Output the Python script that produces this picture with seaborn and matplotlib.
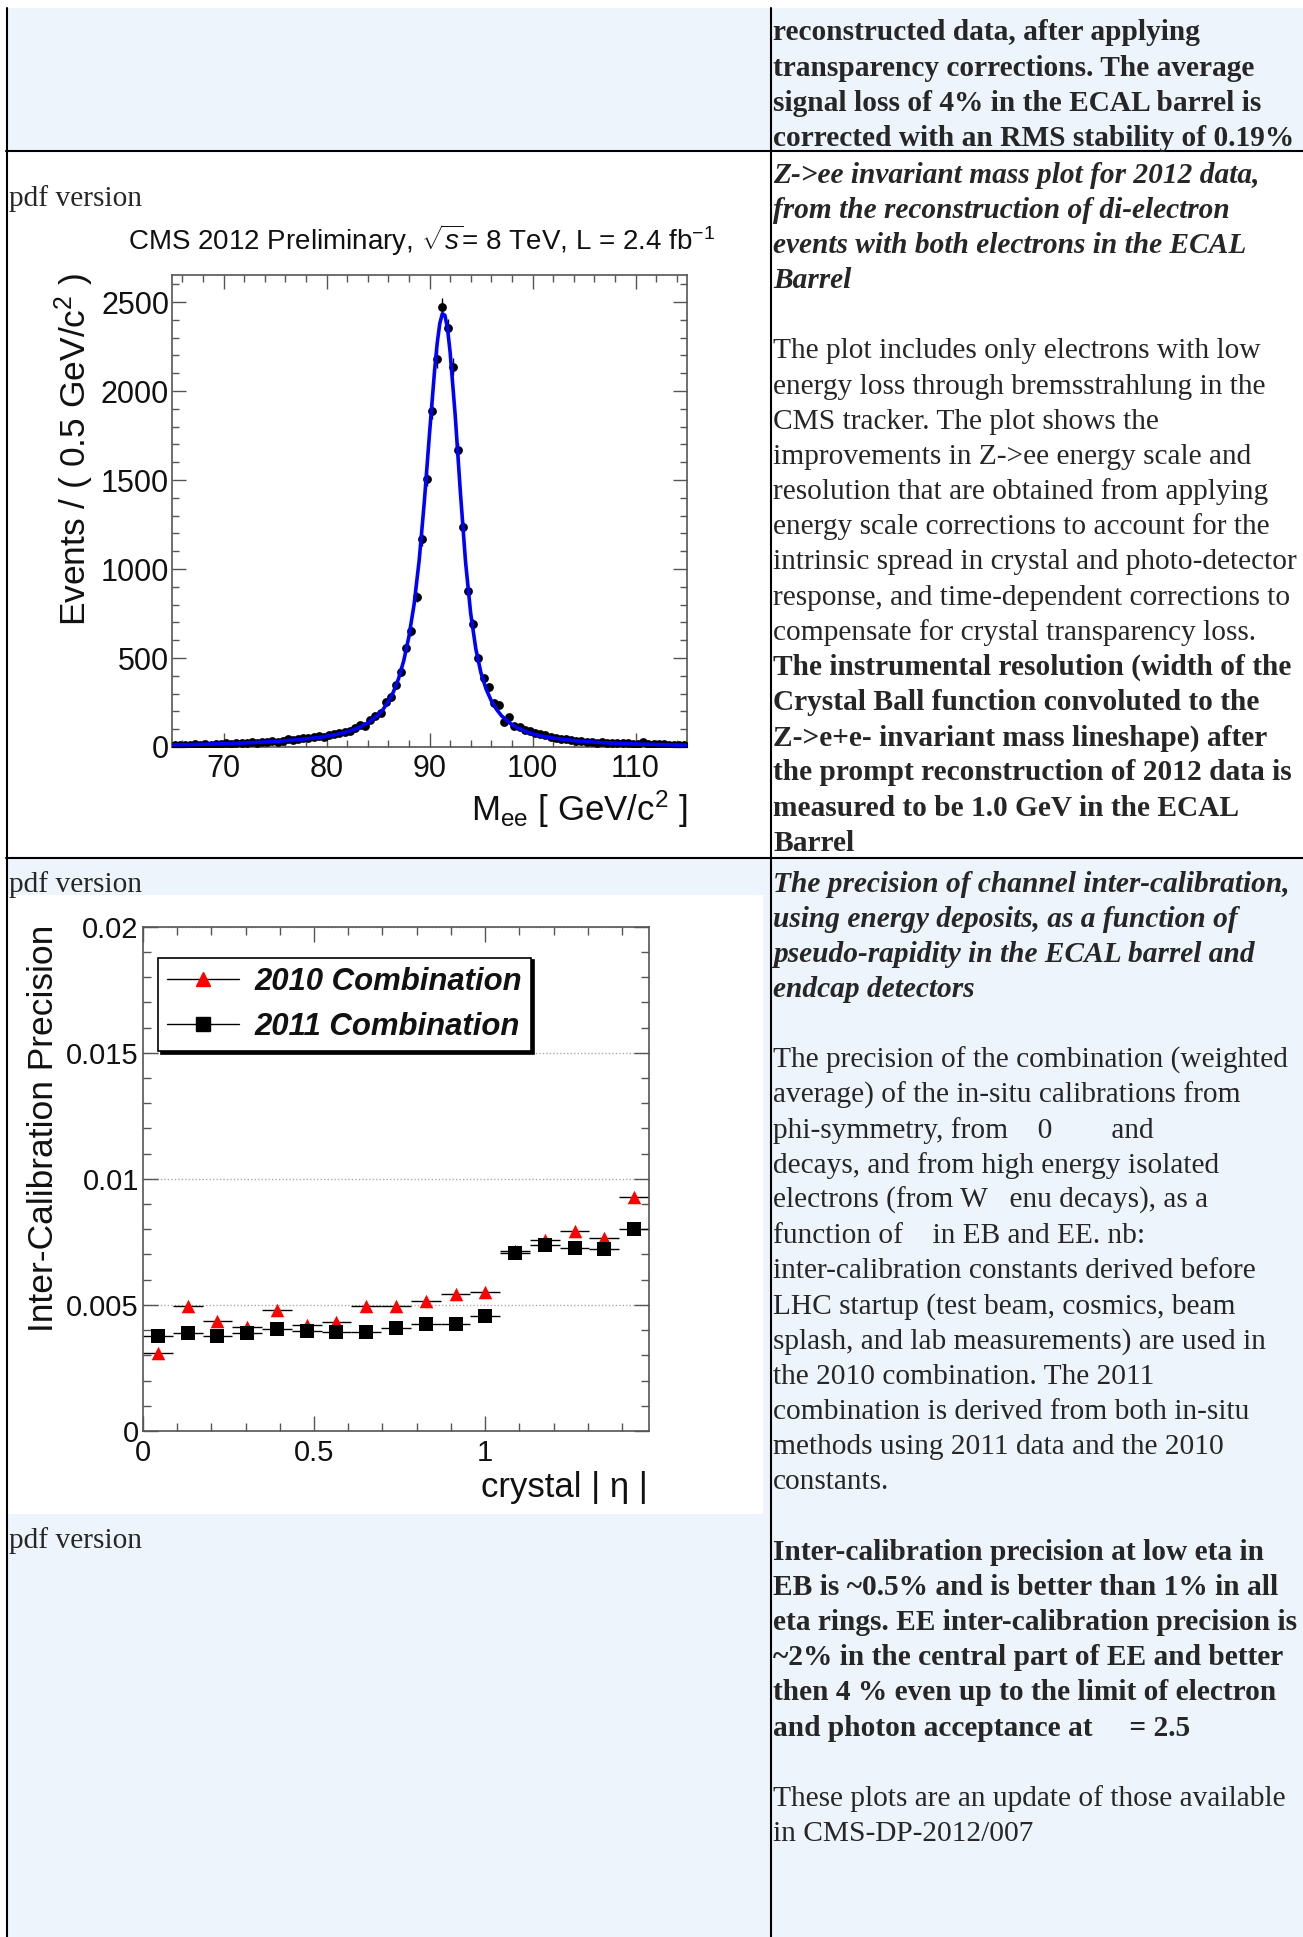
import numpy as np
import pandas as pd
import matplotlib
matplotlib.use('Agg')
import matplotlib.pyplot as plt
from matplotlib.patches import Rectangle
from matplotlib.lines import Line2D
from matplotlib.ticker import MultipleLocator, FixedLocator
import seaborn as sns

sns.set_theme(style='ticks')
plt.rcParams['font.family'] = ['Liberation Sans', 'DejaVu Sans']
plt.rcParams['mathtext.fontset'] = 'custom'
plt.rcParams['mathtext.rm'] = 'Liberation Sans'
plt.rcParams['mathtext.it'] = 'Liberation Sans:italic'
plt.rcParams['mathtext.bf'] = 'Liberation Sans:bold'

# ---- Z->ee invariant mass, 0.5 GeV bins from 65 to 115 ----
mass = np.arange(65.25, 115.0, 0.5)
events = [12, 10, 14, 12, 15, 13, 16, 14, 18, 17,
          20, 16, 22, 24, 21, 26, 23, 28, 27, 32,
          30, 35, 44, 38, 47, 52, 48, 58, 62, 55,
          68, 72, 80, 86, 92, 104, 124, 118, 150, 172,
          189, 254, 280, 347, 420, 556, 650, 843, 1166, 1505,
          1888, 2178, 2475, 2354, 2137, 1667, 1236, 876, 692, 498,
          385, 335, 247, 234, 138, 171,
          118, 112, 95, 90, 78, 72, 66, 58, 50, 46,
          44, 40, 35, 33, 30, 28, 24, 27, 22, 25,
          21, 20, 24, 19, 18, 26, 17, 19, 16, 15,
          14, 12, 11, 10]

fit_mass = [65, 67, 69, 71, 73, 75, 77, 79, 80, 81, 82, 83, 84, 85, 85.5, 86, 86.5,
            87, 87.5, 88, 88.5, 89, 89.5, 90, 90.5, 90.75, 91, 91.25, 91.5, 91.75,
            92, 92.5, 93, 93.5, 94, 94.5, 95, 95.5, 96, 96.5, 97, 98, 99, 100, 101,
            102, 104, 106, 108, 110, 112, 115]
fit_vals = [12, 14, 17, 21, 25, 31, 40, 52, 60, 71, 85, 105, 135, 180, 212, 255, 310,
            385, 485, 620, 800, 1050, 1380, 1760, 2120, 2270, 2380, 2435, 2425, 2350,
            2220, 1860, 1430, 1040, 750, 550, 415, 325, 260, 212, 175, 125, 95, 74, 60,
            50, 36, 27, 21, 17, 14, 10]

# ---- inter-calibration precision vs crystal |eta| ----
eta = [0.0435, 0.1305, 0.2175, 0.3045, 0.3915, 0.4785, 0.5655, 0.6525, 0.7395,
       0.8265, 0.9135, 1.0005, 1.0875, 1.1745, 1.2615, 1.3485, 1.4355]
eta_halfwidth = 0.0435
prec_2010 = [0.00310, 0.00497, 0.00437, 0.00412, 0.00480, 0.00420, 0.00432, 0.00494,
             0.00494, 0.00516, 0.00542, 0.00553, 0.00715, 0.00758, 0.00795, 0.00765, 0.00928]
prec_2011 = [0.00375, 0.00387, 0.00378, 0.00387, 0.00403, 0.00397, 0.00392, 0.00392,
             0.00407, 0.00423, 0.00423, 0.00457, 0.00707, 0.00737, 0.00725, 0.00720, 0.00800]

# ---- page text ----
row1_bold = ["reconstructed data, after applying",
             "transparency corrections. The average",
             "signal loss of 4% in the ECAL barrel is",
             "corrected with an RMS stability of 0.19%"]
z_caption = ["Z->ee invariant mass plot for 2012 data,",
             "from the reconstruction of di-electron",
             "events with both electrons in the ECAL",
             "Barrel"]
z_body = ["The plot includes only electrons with low",
          "energy loss through bremsstrahlung in the",
          "CMS tracker. The plot shows the",
          "improvements in Z->ee energy scale and",
          "resolution that are obtained from applying",
          "energy scale corrections to account for the",
          "intrinsic spread in crystal and photo-detector",
          "response, and time-dependent corrections to",
          "compensate for crystal transparency loss."]
z_bold = ["The instrumental resolution (width of the",
          "Crystal Ball function convoluted to the",
          "Z->e+e- invariant mass lineshape) after",
          "the prompt reconstruction of 2012 data is",
          "measured to be 1.0 GeV in the ECAL",
          "Barrel"]
ic_caption = ["The precision of channel inter-calibration,",
              "using energy deposits, as a function of",
              "pseudo-rapidity in the ECAL barrel and",
              "endcap detectors"]
ic_body = ["The precision of the combination (weighted",
           "average) of the in-situ calibrations from",
           "phi-symmetry, from    0        and",
           "decays, and from high energy isolated",
           "electrons (from W   enu decays), as a",
           "function of    in EB and EE. nb:",
           "inter-calibration constants derived before",
           "LHC startup (test beam, cosmics, beam",
           "splash, and lab measurements) are used in",
           "the 2010 combination. The 2011",
           "combination is derived from both in-situ",
           "methods using 2011 data and the 2010",
           "constants."]
ic_bold = ["Inter-calibration precision at low eta in",
           "EB is ~0.5% and is better than 1% in all",
           "eta rings. EE inter-calibration precision is",
           "~2% in the central part of EE and better",
           "then 4 % even up to the limit of electron",
           "and photon acceptance at     = 2.5"]
ic_note = ["These plots are an update of those available",
           "in CMS-DP-2012/007"]

W, H = 1303, 1937
BLUE = '#edf4fb'
SERIF = ['Liberation Serif', 'DejaVu Serif']
TXT = 21.2
LINE = 35.17

fig = plt.figure(figsize=(W / 100, H / 100), dpi=100)
fig.patch.set_facecolor('white')
bg = fig.add_axes([0, 0, 1, 1], zorder=0)
bg.set_xlim(0, W)
bg.set_ylim(H, 0)
bg.axis('off')

# table cells and borders
bg.add_patch(Rectangle((8, 8), W - 8, 142, color=BLUE, lw=0))
bg.add_patch(Rectangle((8, 859), W - 8, H - 859, color=BLUE, lw=0))
bg.add_patch(Rectangle((8, 895), 755, 619, color='white', lw=0))
bg.plot([7, 7], [8, H], color='black', lw=1.5)
bg.plot([770.5, 770.5], [8, H], color='black', lw=1.5)
bg.plot([6, W], [150.5, 150.5], color='black', lw=1.5)
bg.plot([6, W], [858, 858], color='black', lw=1.5)


def put_lines(lines, y0, start, weight='normal', style='normal'):
    for i, s in enumerate(lines):
        bg.text(773, y0 + (start + i) * LINE, s, fontfamily=SERIF, fontsize=TXT,
                fontweight=weight, fontstyle=style, va='baseline', ha='left')


put_lines(row1_bold, 40.5, 0, 'bold')
put_lines(z_caption, 182.6, 0, 'bold', 'italic')
put_lines(z_body, 182.6, 5)
put_lines(z_bold, 182.6, 14, 'bold')
put_lines(ic_caption, 891.5, 0, 'bold', 'italic')
put_lines(ic_body, 891.5, 5)
put_lines(ic_bold, 891.5, 19, 'bold')
put_lines(ic_note, 891.5, 26)

for yb in [206, 891.5, 1547.5]:
    bg.text(9, yb, 'pdf version', fontfamily=SERIF, fontsize=TXT, va='baseline', ha='left')


def frac_axes(left, top, right, bottom):
    return fig.add_axes([left / W, 1 - bottom / H, (right - left) / W, (bottom - top) / H], zorder=2)


def root_style(ax, fs, major, minor):
    for sp in ax.spines.values():
        sp.set_color('#555555')
        sp.set_linewidth(1.2)
    ax.tick_params(which='both', direction='in', top=True, right=True, colors='#555555',
                   labelcolor='#111111', labelsize=fs, width=1.0)
    ax.tick_params(which='major', length=major)
    ax.tick_params(which='minor', length=minor)
    ax.set_facecolor('white')


# ---- plot 1: Z mass ----
ax1 = frac_axes(172, 275, 687, 747)
ax1.errorbar(mass, events, yerr=np.sqrt(events), fmt='none', ecolor='black', elinewidth=1, zorder=2)
sns.scatterplot(x=mass, y=events, ax=ax1, color='black', s=40, linewidth=0, zorder=3)
sns.lineplot(x=fit_mass, y=fit_vals, ax=ax1, color='#0000ff', lw=2.6, zorder=4, estimator=None)
ax1.set_xlim(65, 115)
ax1.set_ylim(0, 2652)
ax1.xaxis.set_major_locator(MultipleLocator(10))
ax1.xaxis.set_minor_locator(MultipleLocator(2))
ax1.yaxis.set_major_locator(MultipleLocator(500))
ax1.yaxis.set_minor_locator(MultipleLocator(100))
root_style(ax1, 22, 10, 5)
ax1.tick_params(axis='y', pad=2)
ax1.tick_params(axis='x', pad=5)
ax1.set_xlabel('')
ax1.set_ylabel('')

bg.text(422, 240, r'CMS 2012 Preliminary, $\sqrt{s}$= 8 TeV, L = 2.4 fb$^{-1}$',
        ha='center', va='center', fontsize=20, color='#111111')
bg.text(203, 314, 'ECAL Barrel', ha='left', va='center', fontsize=19.5, color='#111111')
bg.text(203, 366, 'Z→ee', ha='left', va='center', fontsize=19.5, color='#111111')
bg.text(74, 273, r'Events / ( 0.5 GeV/c$^{2}$ )', rotation=90, ha='center', va='top',
        fontsize=25.5, color='#111111')
bg.text(688, 809, r'M$_{\rm ee}$ [ GeV/c$^{2}$ ]', ha='right', va='center', fontsize=25,
        color='#111111')

# ---- plot 2: inter-calibration precision ----
ax2 = frac_axes(143, 926.7, 649, 1431)
ax2.errorbar(eta, prec_2010, xerr=eta_halfwidth, fmt='none', ecolor='black', elinewidth=1, zorder=2)
ax2.errorbar(eta, prec_2011, xerr=eta_halfwidth, fmt='none', ecolor='black', elinewidth=1, zorder=2)
sns.scatterplot(x=eta, y=prec_2010, ax=ax2, marker='^', color='red', s=95, linewidth=0, zorder=3)
sns.scatterplot(x=eta, y=prec_2011, ax=ax2, marker='s', color='black', s=115, linewidth=0, zorder=4)
ax2.set_xlim(0, 1.479)
ax2.set_ylim(0, 0.02)
ax2.xaxis.set_major_locator(FixedLocator([0, 0.5, 1]))
ax2.set_xticklabels(['0', '0.5', '1'])
ax2.xaxis.set_minor_locator(MultipleLocator(0.1))
ax2.yaxis.set_major_locator(FixedLocator([0, 0.005, 0.01, 0.015, 0.02]))
ax2.set_yticklabels(['0', '0.005', '0.01', '0.015', '0.02'])
ax2.yaxis.set_minor_locator(MultipleLocator(0.001))
root_style(ax2, 21, 11, 6)
ax2.grid(axis='y', which='major', linestyle=(0, (1, 1.5)), color='#aaaaaa', lw=1)
ax2.set_axisbelow(True)
ax2.tick_params(axis='y', pad=3)
ax2.tick_params(axis='x', pad=6)
ax2.set_xlabel('')
ax2.set_ylabel('')

handles = [Line2D([], [], color='black', lw=1, marker='^', markersize=9.5,
                  markerfacecolor='red', markeredgecolor='red'),
           Line2D([], [], color='black', lw=1, marker='s', markersize=10,
                  markerfacecolor='black', markeredgecolor='black')]
leg = ax2.legend(handles, ['2010 Combination', '2011 Combination'], loc='upper left',
                 bbox_to_anchor=(158 / W, 1 - 957.6 / H), bbox_transform=fig.transFigure,
                 frameon=True, fancybox=False, shadow={'color': 'black', 'alpha': 1},
                 borderpad=0.3, labelspacing=0.47, handlelength=2.3, handletextpad=0.5,
                 borderaxespad=0, prop={'size': 22.4, 'weight': 'bold', 'style': 'italic'})
leg.get_frame().set_edgecolor('black')
leg.get_frame().set_linewidth(1.2)
for t in leg.get_texts():
    t.set_color('#111111')

bg.text(44, 925, 'Inter-Calibration Precision', rotation=90, ha='center', va='top',
        fontsize=25.5, color='#111111')
bg.text(648, 1487, 'crystal | η |', ha='right', va='center', fontsize=25, color='#111111')

fig.savefig('out.png', dpi=100)
